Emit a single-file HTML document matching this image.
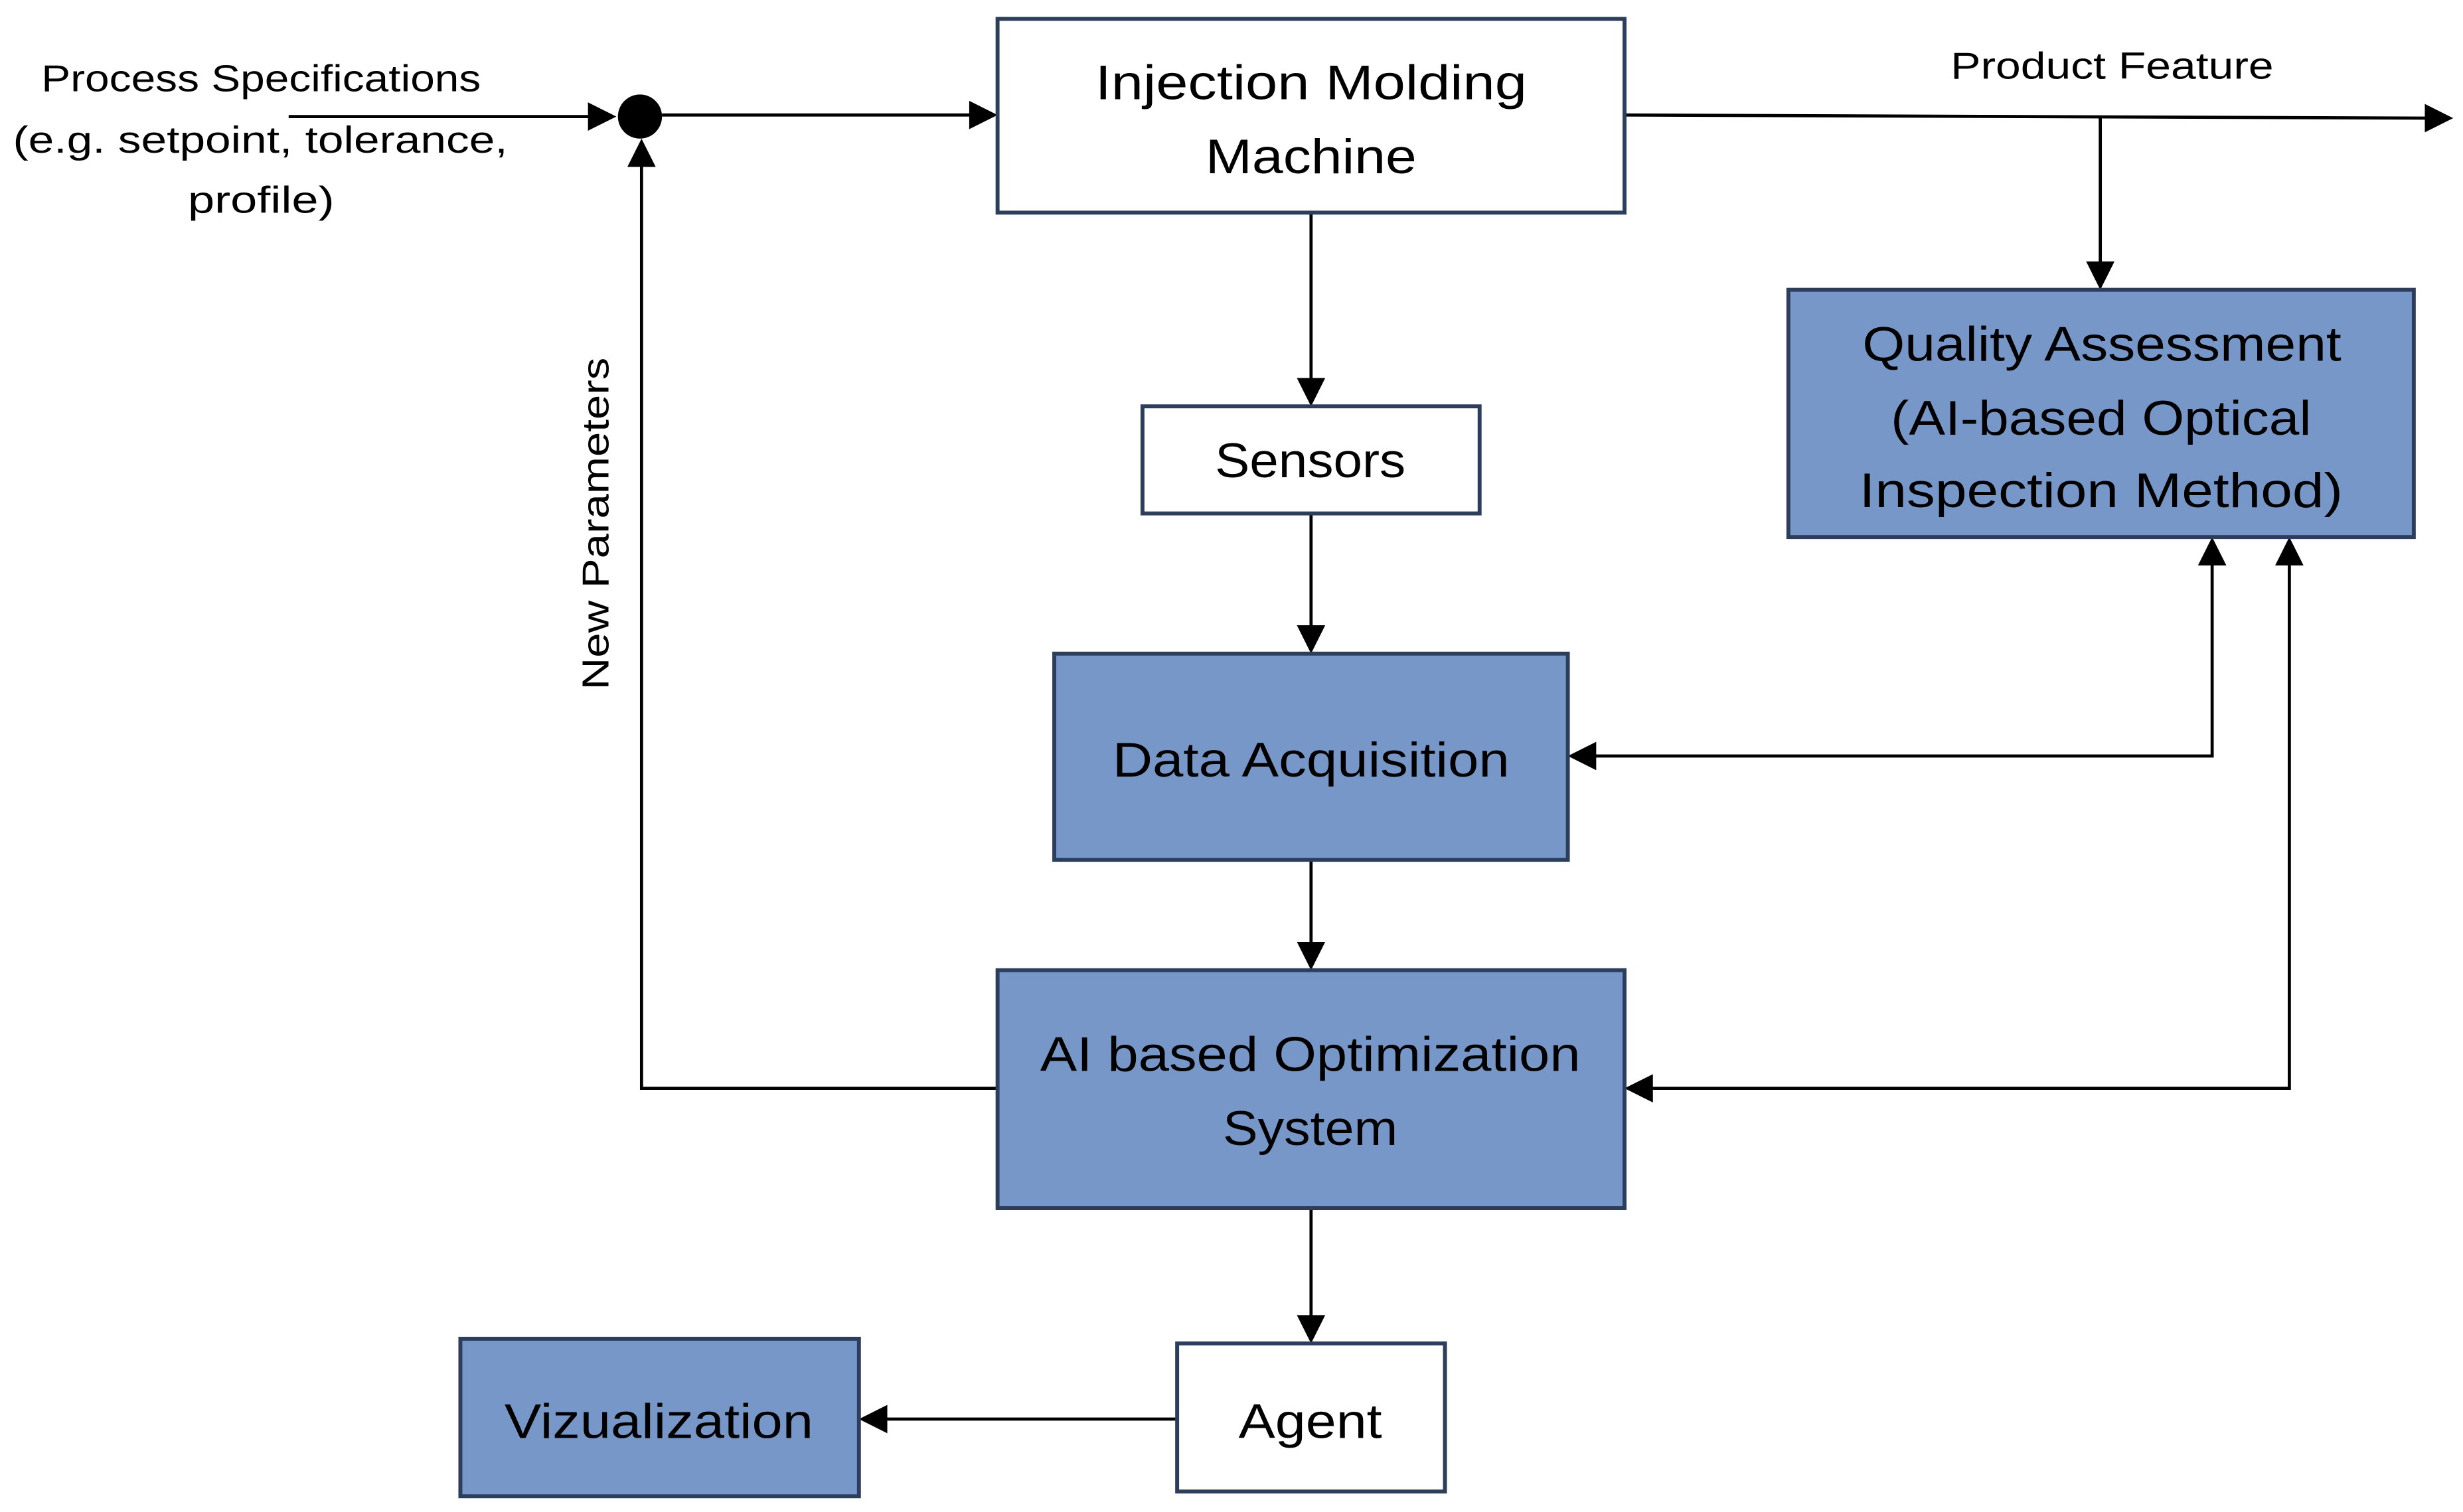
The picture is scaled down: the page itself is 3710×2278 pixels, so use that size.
<!DOCTYPE html>
<html><head><meta charset="utf-8"><style>html,body{margin:0;padding:0;background:#fff}svg{display:block}</style></head>
<body>
<svg width="3710" height="2278" viewBox="0 0 1563 960" xmlns="http://www.w3.org/2000/svg" font-family="Liberation Sans, sans-serif">
<g stroke="#000" stroke-width="2" fill="none">
<line x1="183" y1="74" x2="375" y2="74"/>
<line x1="420" y1="73" x2="617" y2="73"/>
<line x1="1031" y1="73" x2="1541" y2="75"/>
<line x1="1333" y1="75" x2="1333" y2="168"/>
<line x1="832" y1="136" x2="832" y2="242"/>
<line x1="832" y1="327" x2="832" y2="399"/>
<line x1="832" y1="547" x2="832" y2="600"/>
<line x1="832" y1="768" x2="832" y2="837"/>
<line x1="747" y1="901" x2="561" y2="901"/>
<polyline points="633,691 407,691 407,104"/>
<polyline points="1404,357 1404,480 1011,480"/>
<polyline points="1453,357 1453,691 1047,691"/>
</g>
<g fill="#000">
<polygon points="373,65 391,74 373,83"/>
<polygon points="615,64 633,73 615,82"/>
<polygon points="1539,66 1557,75 1539,84"/>
<polygon points="1324,166 1333,184 1342,166"/>
<polygon points="823,240 832,258 841,240"/>
<polygon points="823,397 832,415 841,397"/>
<polygon points="823,598 832,616 841,598"/>
<polygon points="823,835 832,853 841,835"/>
<polygon points="563,892 545,901 563,910"/>
<polygon points="398,106 407,88 416,106"/>
<polygon points="1395,359 1404,341 1413,359"/>
<polygon points="1444,359 1453,341 1462,359"/>
<polygon points="1013,471 995,480 1013,489"/>
<polygon points="1049,682 1031,691 1049,700"/>
<circle cx="406" cy="74" r="14"/>
</g>
<g stroke="#2c3e5c" stroke-width="2.5">
<rect x="633" y="12" width="398" height="123" fill="#fff"/>
<rect x="725" y="258" width="214" height="68" fill="#fff"/>
<rect x="1135" y="184" width="397" height="157" fill="#7897c9"/>
<rect x="669" y="415" width="326" height="131" fill="#7897c9"/>
<rect x="633" y="616" width="398" height="151" fill="#7897c9"/>
<rect x="747" y="853" width="170" height="94" fill="#fff"/>
<rect x="292" y="850" width="253" height="100" fill="#7897c9"/>
</g>
<g font-size="31" fill="#000">
<text x="695" y="63" textLength="274" lengthAdjust="spacingAndGlyphs">Injection Molding</text>
<text x="765" y="110" textLength="134" lengthAdjust="spacingAndGlyphs">Machine</text>
<text x="771" y="303" textLength="121" lengthAdjust="spacingAndGlyphs">Sensors</text>
<text x="1182" y="229" textLength="304" lengthAdjust="spacingAndGlyphs">Quality Assessment</text>
<text x="1200" y="276" textLength="267" lengthAdjust="spacingAndGlyphs">(AI-based Optical</text>
<text x="1180" y="322" textLength="307" lengthAdjust="spacingAndGlyphs">Inspection Method)</text>
<text x="706" y="493" textLength="252" lengthAdjust="spacingAndGlyphs">Data Acquisition</text>
<text x="660" y="680" textLength="343" lengthAdjust="spacingAndGlyphs">AI based Optimization</text>
<text x="776" y="727" textLength="111" lengthAdjust="spacingAndGlyphs">System</text>
<text x="786" y="913" textLength="91" lengthAdjust="spacingAndGlyphs">Agent</text>
<text x="320" y="913" textLength="196" lengthAdjust="spacingAndGlyphs">Vizualization</text>
</g>
<g font-size="24" fill="#000">
<text x="26" y="58" textLength="279" lengthAdjust="spacingAndGlyphs">Process Specifications</text>
<text x="8" y="97" textLength="314" lengthAdjust="spacingAndGlyphs">(e.g. setpoint, tolerance,</text>
<text x="119" y="135" textLength="93" lengthAdjust="spacingAndGlyphs">profile)</text>
<text x="1238" y="50" textLength="205" lengthAdjust="spacingAndGlyphs">Product Feature</text>
<text transform="translate(386,438) rotate(-90)" textLength="211" lengthAdjust="spacingAndGlyphs">New Parameters</text>
</g>
</svg>
</body></html>
